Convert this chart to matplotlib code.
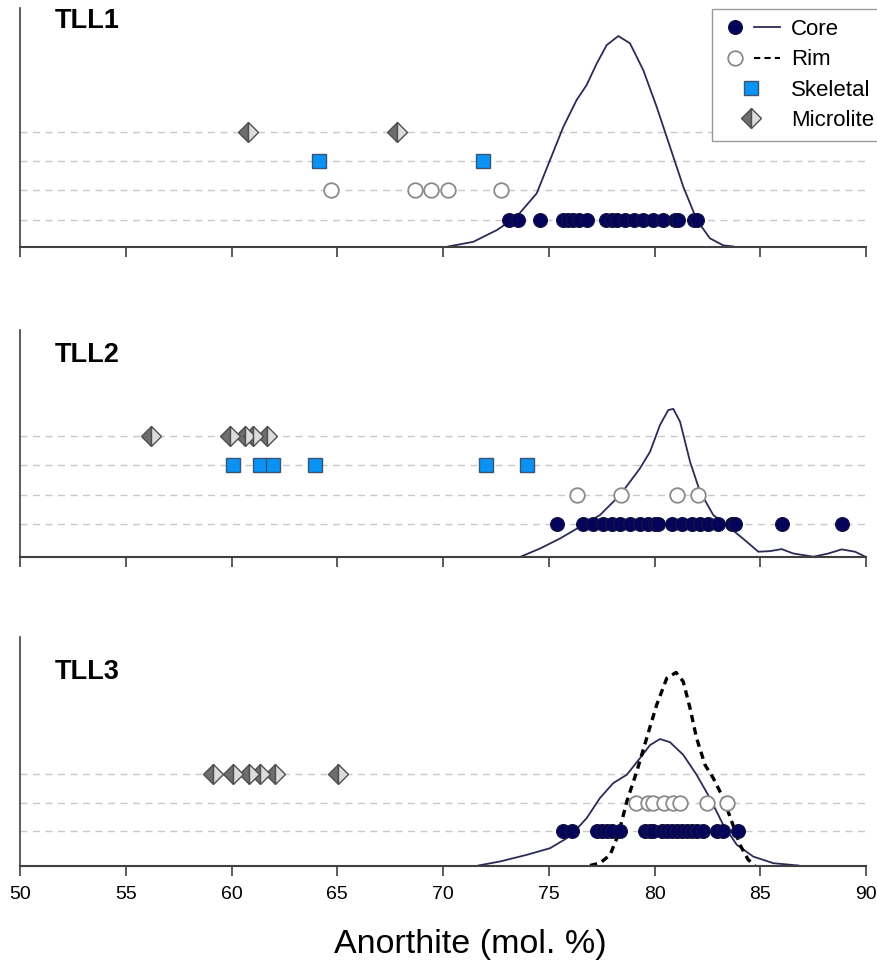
import matplotlib
matplotlib.use("Agg")
import matplotlib.pyplot as plt
from matplotlib.lines import Line2D
from matplotlib.legend_handler import HandlerTuple

plt.rcParams['font.family'] = ['Liberation Sans', 'DejaVu Sans']

# ---- TLL1 ----
tll1_core = [73.12, 73.56, 74.59, 75.69, 75.93, 76.13, 76.45, 76.82, 77.71, 77.98,
             78.24, 78.61, 79.03, 79.47, 79.91, 80.42, 80.97, 81.13, 81.85, 82.0]
tll1_rim = [64.69, 68.68, 69.43, 70.25, 72.74]
tll1_skeletal = [64.15, 71.9]
tll1_microlite = [60.8, 67.81]
tll1_kde_x = [70.25, 71.43, 72.54, 73.48, 74.43, 75.06, 75.69, 76.32, 76.79, 77.27, 77.74,
              78.29, 78.84, 79.47, 80.10, 80.73, 81.36, 82.0, 82.62, 83.25, 83.73]
tll1_kde_y = [0.08, 0.24, 0.64, 1.10, 1.90, 3.04, 4.18, 5.10, 5.61, 6.35, 6.98,
              7.29, 7.04, 6.12, 4.87, 3.50, 2.13, 0.99, 0.36, 0.12, 0.08]

# ---- TLL2 ----
tll2_core = [75.4, 76.63, 77.11, 77.58, 77.97, 78.37, 78.84, 79.31, 79.71, 80.02, 80.18,
             80.81, 81.29, 81.76, 82.15, 82.55, 83.02, 83.65, 83.81, 86.01, 88.85]
tll2_rim = [76.32, 78.40, 81.08, 82.07]
tll2_skeletal = [60.09, 61.35, 61.98, 63.96, 72.02, 73.96]
tll2_microlite = [56.19, 59.93, 60.64, 61.03, 61.66]
tll2_kde_x = [73.64, 74.59, 75.53, 76.48, 77.42, 78.37, 79.31, 79.79, 80.26, 80.65, 80.89,
              81.21, 81.68, 82.15, 82.78, 83.59, 84.36, 84.91, 85.46, 86.01, 86.56,
              87.52, 88.22, 88.85, 89.48, 90.0]
tll2_kde_y = [-0.13, 0.16, 0.50, 0.90, 1.30, 1.98, 2.89, 3.46, 4.37, 4.88, 4.92,
              4.48, 3.12, 2.10, 1.30, 0.85, 0.39, 0.05, 0.07, 0.14, -0.01,
              -0.12, -0.01, 0.13, 0.05, -0.13]

# ---- TLL3 ----
tll3_core = [75.66, 76.08, 77.27, 77.5, 77.74, 77.98, 78.37, 79.55, 79.79, 79.95, 80.34,
             80.58, 80.81, 81.05, 81.29, 81.52, 81.76, 82.0, 82.31, 82.94, 83.25, 83.96]
tll3_rim = [79.12, 79.71, 79.94, 80.45, 80.89, 81.21, 82.5, 83.41]
tll3_microlite = [59.11, 60.06, 60.84, 61.35, 62.06, 65.02]
tll3_kde_x = [71.67, 72.70, 73.96, 75.06, 76.0, 76.79, 77.42, 78.05, 78.69, 79.31, 79.79,
              80.26, 80.73, 81.36, 81.99, 82.62, 83.25, 83.89, 84.67, 85.62, 86.8]
tll3_kde_y = [-0.18, -0.04, 0.19, 0.42, 0.83, 1.46, 2.16, 2.68, 2.97, 3.54, 4.0,
              4.21, 4.10, 3.66, 2.97, 2.16, 1.23, 0.54, 0.13, -0.10, -0.18]
tll3_rim_kde_x = [76.95, 77.42, 77.9, 78.29, 78.69, 79.16, 79.63, 80.10, 80.58, 81.02,
                  81.36, 81.68, 81.99, 82.39, 82.78, 83.25, 83.65, 84.04, 84.43, 84.75]
tll3_rim_kde_y = [-0.18, -0.10, 0.19, 0.89, 2.04, 3.08, 4.24, 5.39, 6.32, 6.52,
                  6.20, 5.28, 4.24, 3.31, 2.85, 2.16, 1.35, 0.54, 0.02, -0.18]

ticks = [50, 55, 60, 65, 70, 75, 80, 85, 90]

# styles
navy = '#04045a'
curve_col = '#2b2b58'
core_kw = dict(marker='o', ls='none', ms=10, mfc=navy, mec='#151540', mew=0.8)
rim_kw = dict(marker='o', ls='none', ms=10.5, mfc='white', mec='#8a8a8a', mew=1.3)
skel_kw = dict(marker='s', ls='none', ms=9.5, mfc='#0a93f5', mec='#3b5570', mew=1.0)
micro_kw = dict(marker='D', ls='none', ms=10, fillstyle='left', mfc='#6e6e6e',
                mfcalt='#dcdcdc', mec='#505050', mew=1.0)

panels = [
    dict(name='TLL1', core=tll1_core, rim=tll1_rim, skel=tll1_skeletal, micro=tll1_microlite,
         kx=tll1_kde_x, ky=tll1_kde_y, rx=None, ry=None, ylim=(0.08, 8.25),
         box=(20, 8, 246.5), title_y=21),
    dict(name='TLL2', core=tll2_core, rim=tll2_rim, skel=tll2_skeletal, micro=tll2_microlite,
         kx=tll2_kde_x, ky=tll2_kde_y, rx=None, ry=None, ylim=(-0.13, 7.61),
         box=(20, 330, 557), title_y=355),
    dict(name='TLL3', core=tll3_core, rim=tll3_rim, skel=None, micro=tll3_microlite,
         kx=tll3_kde_x, ky=tll3_kde_y, rx=tll3_rim_kde_x, ry=tll3_rim_kde_y, ylim=(-0.18, 7.75),
         box=(20, 637, 865.5), title_y=672),
]

W, H = 878, 973
fig = plt.figure(figsize=(W / 100, H / 100), dpi=100)

for i, p in enumerate(panels):
    left, top, bottom = p['box']
    ax = fig.add_axes([left / W, 1 - bottom / H, (866 - left) / W, (bottom - top) / H])

    levels = []
    lev = 1
    rows = [('core', core_kw), ('rim', rim_kw), ('skel', skel_kw), ('micro', micro_kw)]
    for key, kw in rows:
        vals = p[key]
        if vals is None:
            continue
        ax.axhline(lev, color='#c8c8c8', lw=1.0, ls=(0, (5, 4)), zorder=1)
        levels.append((key, kw, vals, lev))
        lev += 1

    ax.plot(p['kx'], p['ky'], color=curve_col, lw=1.3, zorder=2)
    if p['rx'] is not None:
        ax.plot(p['rx'], p['ry'], color='black', lw=2.4, ls=(0, (2.2, 1.6)), zorder=2)

    for key, kw, vals, lv in levels:
        ax.plot(vals, [lv] * len(vals), zorder=3, clip_on=False, **kw)

    ax.set_xlim(50, 90)
    ax.set_ylim(*p['ylim'])
    ax.set_xticks(ticks)
    ax.set_yticks([])
    for s in ['top', 'right']:
        ax.spines[s].set_visible(False)
    ax.spines['left'].set_color('#404040')
    ax.spines['left'].set_linewidth(1.2)
    ax.spines['bottom'].set_color('#404040')
    ax.spines['bottom'].set_linewidth(1.5)
    ax.tick_params(axis='x', direction='out', length=7, width=1.2, color='#404040',
                   labelsize=14, pad=8)
    if i < 2:
        ax.tick_params(axis='x', labelbottom=False)
    fig.text(55 / W, 1 - p['title_y'] / H, p['name'], fontsize=19.5,
             fontweight='bold', ha='left', va='center')

fig.text(470 / W, 1 - 945 / H, 'Anorthite (mol. %)', fontsize=24.5, ha='center', va='center')

h_core = (Line2D([], [], **core_kw), Line2D([], [], color=curve_col, lw=1.3))
h_rim = (Line2D([], [], **rim_kw), Line2D([], [], color='black', lw=1.5, ls=(0, (3, 2))))
h_skel = Line2D([], [], **skel_kw)
h_micro = Line2D([], [], **micro_kw)
fig.legend([h_core, h_rim, h_skel, h_micro], ['Core', 'Rim', 'Skeletal', 'Microlite'],
           handler_map={tuple: HandlerTuple(ndivide=None, pad=0.3)},
           loc='upper left', bbox_to_anchor=(712 / W, 1 - 9 / H), borderaxespad=0,
           frameon=True, fancybox=False, edgecolor='#999999', framealpha=1,
           fontsize=16, handlelength=2.6, labelspacing=0.42, borderpad=0.45,
           handletextpad=0.5)

fig.savefig('out.png', dpi=100)
